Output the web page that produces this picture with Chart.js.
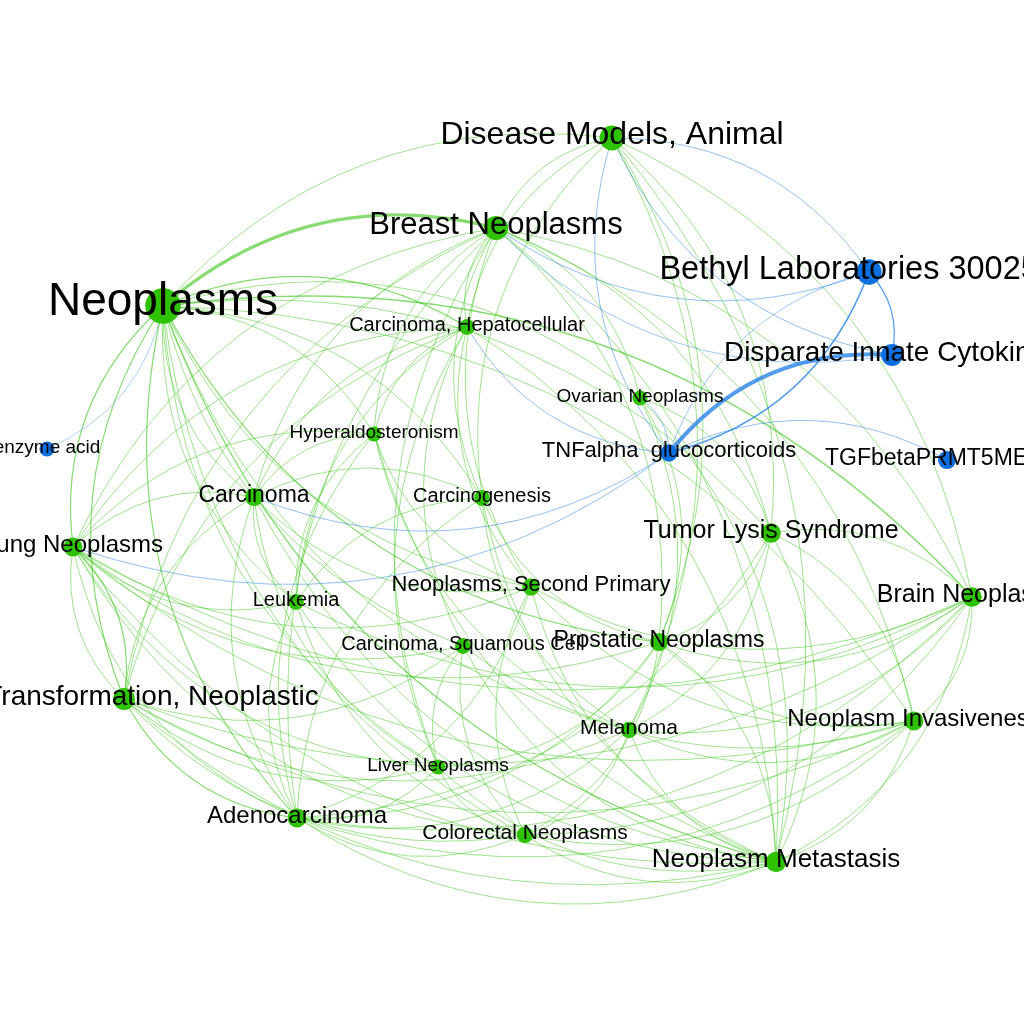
<!DOCTYPE html>
<html>
<head>
<meta charset="utf-8">
<script src="https://cdn.jsdelivr.net/npm/chart.js@4/dist/chart.umd.min.js"></script>
<style>
  html, body { margin: 0; padding: 0; background: #fff; }
  #wrap { width: 1024px; height: 1024px; }
</style>
</head>
<body>
<div id="wrap"><canvas id="graph"></canvas></div>
<script>
// nodes of the network (layout position, weight, group)
const nodeNames = [
  "Neoplasms", "Disease Models, Animal", "Breast Neoplasms", "Bethyl Laboratories 300250A",
  "Disparate Innate Cytokines", "Carcinoma, Hepatocellular", "Ovarian Neoplasms", "enzyme acid",
  "Hyperaldosteronism", "TNFalpha  glucocorticoids", "TGFbetaPRMT5MEP50", "Carcinoma",
  "Carcinogenesis", "Lung Neoplasms", "Tumor Lysis Syndrome", "Neoplasms, Second Primary",
  "Brain Neoplasms", "Leukemia", "Carcinoma, Squamous Cell", "Prostatic Neoplasms",
  "Cell Transformation, Neoplastic", "Neoplasm Invasiveness", "Melanoma", "Liver Neoplasms",
  "Adenocarcinoma", "Colorectal Neoplasms", "Neoplasm Metastasis"
];
const nodeX = [163, 612, 496, 869, 892, 467, 640, 47, 374, 669, 947, 254, 482, 73, 771, 531,
  972, 296, 463, 659, 124, 914, 629, 438, 297, 525, 776];
const nodeY = [306, 138, 228, 272, 355, 327, 398, 449, 434, 453, 460, 497, 498, 547, 533, 587,
  597, 602, 646, 642, 699, 721, 730, 767, 818, 835, 862];
const nodeWeight = [46, 32, 31, 32.5, 28, 20, 19, 19, 19, 22, 23, 23, 20, 24, 25, 22,
  25, 20, 20, 23, 28, 24, 21, 19, 24, 21, 26];
// 0 = MeSH term, 1 = other entity
const nodeGroup = [0, 0, 0, 1, 1, 0, 0, 1, 0, 1, 1, 0, 0, 0, 0, 0,
  0, 0, 0, 0, 0, 0, 0, 0, 0, 0, 0];

// edges: source, target, weight, direction fixed by source -> target
const edges = [
  ["Neoplasms", "Breast Neoplasms", 4], ["Neoplasms", "Disease Models, Animal", 1],
  ["Neoplasms", "Carcinoma, Hepatocellular", 1.5], ["Neoplasms", "Ovarian Neoplasms", 1],
  ["Neoplasms", "Brain Neoplasms", 2], ["Neoplasms", "Tumor Lysis Syndrome", 1],
  ["Neoplasms", "Prostatic Neoplasms", 1.5], ["Neoplasms", "Neoplasms, Second Primary", 1],
  ["Neoplasms", "Carcinogenesis", 1], ["Neoplasms", "Hyperaldosteronism", 1],
  ["Neoplasms", "Carcinoma", 1], ["Neoplasms", "Leukemia", 1],
  ["Neoplasms", "Lung Neoplasms", 1.5], ["Neoplasms", "Cell Transformation, Neoplastic", 1.5],
  ["Neoplasms", "Adenocarcinoma", 1.5], ["Neoplasms", "Liver Neoplasms", 1],
  ["Neoplasms", "Colorectal Neoplasms", 1], ["Neoplasms", "Neoplasm Metastasis", 1.5],
  ["Neoplasms", "Melanoma", 1], ["Neoplasms", "Neoplasm Invasiveness", 1],
  ["Neoplasms", "enzyme acid", 0.6, true], ["Neoplasms", "Carcinoma, Squamous Cell", 1],
  ["Breast Neoplasms", "Disease Models, Animal", 1], ["Breast Neoplasms", "Carcinoma, Hepatocellular", 1],
  ["Breast Neoplasms", "Ovarian Neoplasms", 1], ["Breast Neoplasms", "Carcinoma", 1],
  ["Breast Neoplasms", "Carcinogenesis", 1], ["Breast Neoplasms", "Lung Neoplasms", 1],
  ["Breast Neoplasms", "Tumor Lysis Syndrome", 1], ["Breast Neoplasms", "Neoplasms, Second Primary", 1],
  ["Breast Neoplasms", "Prostatic Neoplasms", 1], ["Breast Neoplasms", "Neoplasm Metastasis", 1],
  ["Breast Neoplasms", "Hyperaldosteronism", 1], ["Breast Neoplasms", "Brain Neoplasms", 1],
  ["Breast Neoplasms", "Cell Transformation, Neoplastic", 1], ["Breast Neoplasms", "Adenocarcinoma", 1],
  ["Bethyl Laboratories 300250A", "Breast Neoplasms", 0.8, true], ["Disparate Innate Cytokines", "Breast Neoplasms", 0.7, true],
  ["Breast Neoplasms", "Neoplasm Invasiveness", 1], ["Breast Neoplasms", "Liver Neoplasms", 1],
  ["TNFalpha  glucocorticoids", "Disease Models, Animal", 0.8, true], ["Disparate Innate Cytokines", "Disease Models, Animal", 0.8, true],
  ["Disease Models, Animal", "Tumor Lysis Syndrome", 1], ["Disease Models, Animal", "Neoplasm Metastasis", 1],
  ["Disease Models, Animal", "Brain Neoplasms", 1], ["Disease Models, Animal", "Carcinoma, Hepatocellular", 1],
  ["Disease Models, Animal", "Prostatic Neoplasms", 1], ["Disease Models, Animal", "Carcinogenesis", 1],
  ["Disease Models, Animal", "Melanoma", 1],
  ["TNFalpha  glucocorticoids", "Carcinoma, Hepatocellular", 0.8, true], ["Carcinoma, Hepatocellular", "Carcinoma", 1],
  ["Carcinoma, Hepatocellular", "Lung Neoplasms", 1], ["Carcinoma, Hepatocellular", "Leukemia", 1],
  ["Carcinoma, Hepatocellular", "Carcinoma, Squamous Cell", 1], ["Carcinoma, Hepatocellular", "Cell Transformation, Neoplastic", 1],
  ["Carcinoma, Hepatocellular", "Liver Neoplasms", 1], ["Carcinoma, Hepatocellular", "Neoplasm Metastasis", 1],
  ["Carcinoma, Hepatocellular", "Hyperaldosteronism", 1], ["Carcinoma, Hepatocellular", "Neoplasms, Second Primary", 1],
  ["Ovarian Neoplasms", "TNFalpha  glucocorticoids", 0.8], ["Ovarian Neoplasms", "Neoplasm Metastasis", 1],
  ["Ovarian Neoplasms", "Prostatic Neoplasms", 1], ["Ovarian Neoplasms", "Tumor Lysis Syndrome", 1],
  ["Ovarian Neoplasms", "Melanoma", 1],
  ["Hyperaldosteronism", "Carcinoma", 1], ["Hyperaldosteronism", "Leukemia", 1],
  ["Hyperaldosteronism", "Adenocarcinoma", 1], ["Hyperaldosteronism", "Neoplasms, Second Primary", 1],
  ["Hyperaldosteronism", "Melanoma", 1], ["Hyperaldosteronism", "Neoplasm Metastasis", 1],
  ["Hyperaldosteronism", "Lung Neoplasms", 1],
  ["TNFalpha  glucocorticoids", "Disparate Innate Cytokines", 5, true], ["Bethyl Laboratories 300250A", "TNFalpha  glucocorticoids", 2, true],
  ["TNFalpha  glucocorticoids", "Bethyl Laboratories 300250A", 0.7, true], ["TNFalpha  glucocorticoids", "TGFbetaPRMT5MEP50", 0.8, true],
  ["TNFalpha  glucocorticoids", "Carcinoma", 0.8, true], ["TNFalpha  glucocorticoids", "Lung Neoplasms", 0.8, true],
  ["Bethyl Laboratories 300250A", "Disparate Innate Cytokines", 1.5, true], ["Disease Models, Animal", "Bethyl Laboratories 300250A", 0.8, true],
  ["Carcinoma", "Lung Neoplasms", 1], ["Carcinoma", "Leukemia", 1], ["Carcinoma", "Adenocarcinoma", 1],
  ["Carcinoma", "Cell Transformation, Neoplastic", 1], ["Carcinoma", "Liver Neoplasms", 1],
  ["Carcinoma", "Neoplasms, Second Primary", 1], ["Carcinoma", "Neoplasm Metastasis", 1],
  ["Carcinoma", "Carcinogenesis", 1],
  ["Carcinogenesis", "Leukemia", 1], ["Carcinogenesis", "Prostatic Neoplasms", 1],
  ["Carcinogenesis", "Neoplasm Metastasis", 1], ["Carcinogenesis", "Adenocarcinoma", 1],
  ["Carcinogenesis", "Melanoma", 1],
  ["Lung Neoplasms", "Cell Transformation, Neoplastic", 1.5, true], ["Cell Transformation, Neoplastic", "Lung Neoplasms", 1, true],
  ["Lung Neoplasms", "Adenocarcinoma", 1], ["Lung Neoplasms", "Neoplasms, Second Primary", 1],
  ["Lung Neoplasms", "Prostatic Neoplasms", 1], ["Lung Neoplasms", "Neoplasm Invasiveness", 1],
  ["Lung Neoplasms", "Brain Neoplasms", 1], ["Lung Neoplasms", "Neoplasm Metastasis", 1],
  ["Lung Neoplasms", "Colorectal Neoplasms", 1], ["Lung Neoplasms", "Carcinoma, Squamous Cell", 1],
  ["Lung Neoplasms", "Liver Neoplasms", 1], ["Lung Neoplasms", "Leukemia", 1],
  ["Tumor Lysis Syndrome", "Neoplasm Metastasis", 1], ["Tumor Lysis Syndrome", "Brain Neoplasms", 1],
  ["Tumor Lysis Syndrome", "Neoplasm Invasiveness", 1], ["Tumor Lysis Syndrome", "Melanoma", 1],
  ["Tumor Lysis Syndrome", "Prostatic Neoplasms", 1], ["Adenocarcinoma", "Tumor Lysis Syndrome", 1],
  ["Neoplasms, Second Primary", "Neoplasm Metastasis", 1], ["Neoplasms, Second Primary", "Neoplasm Invasiveness", 1],
  ["Neoplasms, Second Primary", "Colorectal Neoplasms", 1], ["Neoplasms, Second Primary", "Brain Neoplasms", 1],
  ["Adenocarcinoma", "Neoplasms, Second Primary", 1],
  ["Brain Neoplasms", "Neoplasm Invasiveness", 1], ["Brain Neoplasms", "Neoplasm Metastasis", 1],
  ["Brain Neoplasms", "Melanoma", 1], ["Cell Transformation, Neoplastic", "Brain Neoplasms", 1],
  ["Adenocarcinoma", "Brain Neoplasms", 1], ["Brain Neoplasms", "Prostatic Neoplasms", 1],
  ["Colorectal Neoplasms", "Brain Neoplasms", 1],
  ["Leukemia", "Adenocarcinoma", 1], ["Leukemia", "Colorectal Neoplasms", 1],
  ["Leukemia", "Neoplasm Metastasis", 1], ["Leukemia", "Brain Neoplasms", 1],
  ["Carcinoma, Squamous Cell", "Liver Neoplasms", 1], ["Carcinoma, Squamous Cell", "Colorectal Neoplasms", 1],
  ["Carcinoma, Squamous Cell", "Neoplasm Metastasis", 1], ["Carcinoma, Squamous Cell", "Neoplasm Invasiveness", 1],
  ["Cell Transformation, Neoplastic", "Carcinoma, Squamous Cell", 1],
  ["Prostatic Neoplasms", "Neoplasm Metastasis", 1], ["Colorectal Neoplasms", "Prostatic Neoplasms", 1],
  ["Prostatic Neoplasms", "Neoplasm Invasiveness", 1], ["Adenocarcinoma", "Prostatic Neoplasms", 1],
  ["Liver Neoplasms", "Prostatic Neoplasms", 1],
  ["Cell Transformation, Neoplastic", "Adenocarcinoma", 1.5], ["Cell Transformation, Neoplastic", "Neoplasm Metastasis", 1],
  ["Cell Transformation, Neoplastic", "Colorectal Neoplasms", 1], ["Cell Transformation, Neoplastic", "Liver Neoplasms", 1],
  ["Cell Transformation, Neoplastic", "Neoplasm Invasiveness", 1], ["Cell Transformation, Neoplastic", "Melanoma", 1],
  ["Neoplasm Invasiveness", "Neoplasm Metastasis", 1], ["Adenocarcinoma", "Neoplasm Invasiveness", 1],
  ["Melanoma", "Neoplasm Invasiveness", 1], ["Colorectal Neoplasms", "Neoplasm Invasiveness", 1],
  ["Melanoma", "Neoplasm Metastasis", 1], ["Adenocarcinoma", "Melanoma", 1],
  ["Colorectal Neoplasms", "Melanoma", 1],
  ["Adenocarcinoma", "Liver Neoplasms", 1], ["Liver Neoplasms", "Neoplasm Metastasis", 1],
  ["Liver Neoplasms", "Colorectal Neoplasms", 1],
  ["Adenocarcinoma", "Colorectal Neoplasms", 1], ["Adenocarcinoma", "Neoplasm Metastasis", 1],
  ["Colorectal Neoplasms", "Neoplasm Metastasis", 1]
];

const GREEN = "#2ec200";
const BLUE = "#0b6fe0";
const FONT = '"Liberation Sans", Arial, Helvetica, sans-serif';

function nodeRadius(w) { return 7.5 + (w - 19) * 0.38; }

const edgePlugin = {
  id: "edges",
  beforeDatasetsDraw(chart) {
    const { ctx, scales } = chart;
    const px = nodeX.map(v => scales.x.getPixelForValue(v));
    const py = nodeY.map(v => scales.y.getPixelForValue(v));
    const cxAll = px.reduce((a, b) => a + b, 0) / px.length;
    const cyAll = py.reduce((a, b) => a + b, 0) / py.length;
    ctx.save();
    ctx.lineCap = "round";
    edges.forEach(([a, b, w, fixed]) => {
      let i = nodeNames.indexOf(a), j = nodeNames.indexOf(b);
      const blue = nodeGroup[i] === 1 || nodeGroup[j] === 1;
      // curves bend away from the middle of the layout unless the order is given
      if (!fixed) {
        const mx = (px[i] + px[j]) / 2, my = (py[i] + py[j]) / 2;
        const nx = py[j] - py[i], ny = -(px[j] - px[i]);
        if (nx * (mx - cxAll) + ny * (my - cyAll) < 0) [i, j] = [j, i];
      }
      const x1 = px[i], y1 = py[i], x2 = px[j], y2 = py[j];
      const k = 0.26;
      const cx = (x1 + x2) / 2 + k * (y2 - y1);
      const cy = (y1 + y2) / 2 - k * (x2 - x1);
      ctx.strokeStyle = blue ? "rgba(40,130,230,0.8)" : "rgba(55,195,20,0.6)";
      ctx.lineWidth = w * 0.8;
      ctx.beginPath();
      ctx.moveTo(x1, y1);
      ctx.quadraticCurveTo(cx, cy, x2, y2);
      ctx.stroke();
    });
    ctx.restore();
  }
};

const labelPlugin = {
  id: "labels",
  afterDatasetsDraw(chart) {
    const { ctx, scales } = chart;
    ctx.save();
    ctx.fillStyle = "#000";
    ctx.textAlign = "center";
    ctx.textBaseline = "alphabetic";
    nodeNames.forEach((name, i) => {
      const px = scales.x.getPixelForValue(nodeX[i]);
      const py = scales.y.getPixelForValue(nodeY[i]);
      const fs = nodeWeight[i];
      ctx.font = fs + "px " + FONT;
      ctx.fillText(name, px, py + fs * 0.2);
    });
    ctx.restore();
  }
};

new Chart(document.getElementById("graph"), {
  type: "scatter",
  data: {
    datasets: [{
      data: nodeNames.map((n, i) => ({ x: nodeX[i], y: nodeY[i] })),
      pointRadius: nodeWeight.map(nodeRadius),
      pointHoverRadius: nodeWeight.map(nodeRadius),
      pointBackgroundColor: nodeGroup.map(g => g === 1 ? BLUE : GREEN),
      pointBorderWidth: 0,
      clip: false
    }]
  },
  options: {
    responsive: true,
    maintainAspectRatio: false,
    animation: false,
    events: [],
    layout: { padding: 0, autoPadding: false },
    plugins: { legend: { display: false }, tooltip: { enabled: false } },
    scales: {
      x: { type: "linear", min: 0, max: 1024, display: false },
      y: { type: "linear", min: 0, max: 1024, reverse: true, display: false }
    }
  },
  plugins: [edgePlugin, labelPlugin]
});
</script>
</body>
</html>
